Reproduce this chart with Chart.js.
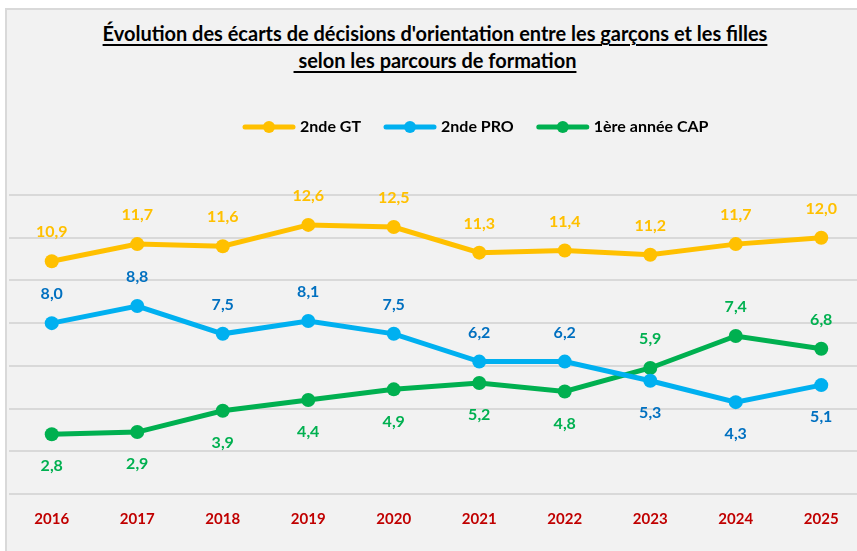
<!DOCTYPE html>
<html>
<head>
<meta charset="utf-8">
<script src="https://cdn.jsdelivr.net/npm/chart.js@4.4.1/dist/chart.umd.min.js"></script>
<style>
  body { margin:0; background:#fff; overflow:hidden; width:857px; height:551px; position:relative; font-family: Lato, sans-serif; }
  #box { position:absolute; left:5px; top:8px; width:900px; height:600px; background:#f2f2f2; border-left:2px solid #d9d9d9; border-top:2px solid #d9d9d9; }
  #titre { position:absolute; left:0; top:20px; width:870px; text-align:center; font-weight:bold; color:#000; line-height:27px; font-size:17px; }
  #titre span { text-decoration: underline; text-decoration-thickness: 1.5px; text-underline-offset: 3px; }
  #wrap { position:absolute; left:7px; top:10px; }
</style>
</head>
<body>
<div id="box"></div>
<div id="titre"><span>Évolution des écarts de décisions d'orientation entre les garçons et les filles</span><br><span>&nbsp;selon les parcours de formation</span></div>
<div id="wrap"><canvas id="evolution" width="861" height="543"></canvas></div>
<script>
// donnees
const annees = ['2016', '2017', '2018', '2019', '2020', '2021', '2022', '2023', '2024', '2025'];
const secondeGT = [10.9, 11.7, 11.6, 12.6, 12.5, 11.3, 11.4, 11.2, 11.7, 12.0];
const secondePRO = [8.0, 8.8, 7.5, 8.1, 7.5, 6.2, 6.2, 5.3, 4.3, 5.1];
const premiereCAP = [2.8, 2.9, 3.9, 4.4, 4.9, 5.2, 4.8, 5.9, 7.4, 6.8];

// taille du titre ajustee a la largeur
const mesure = document.createElement('canvas').getContext('2d');
mesure.font = 'bold 100px Lato';
const largeur = mesure.measureText("Évolution des écarts de décisions d'orientation entre les garçons et les filles").width;
document.getElementById('titre').style.fontSize = (100 * 665 / largeur).toFixed(2) + 'px';

// legende dessinee a la main (ligne + point)
const legende = {
    id: 'legende',
    afterDraw(chart) {
        const ctx = chart.ctx;
        let x = 235;
        const y = 117;
        ctx.save();
        ctx.font = 'bold 16px Lato';
        ctx.textBaseline = 'middle';
        chart.data.datasets.forEach(ds => {
            ctx.strokeStyle = ds.borderColor;
            ctx.lineWidth = 5;
            ctx.lineCap = 'round';
            ctx.beginPath();
            ctx.moveTo(x + 3, y);
            ctx.lineTo(x + 51, y);
            ctx.stroke();
            ctx.fillStyle = ds.borderColor;
            ctx.beginPath();
            ctx.arc(x + 27, y, 6, 0, Math.PI * 2);
            ctx.fill();
            ctx.fillStyle = '#000';
            ctx.fillText(ds.label, x + 58, y);
            x += 58 + ctx.measureText(ds.label).width + 22;
        });
        ctx.restore();
    }
};

// etiquettes de valeurs
const etiquettes = {
    id: 'etiquettes',
    afterDatasetsDraw(chart) {
        const ctx = chart.ctx;
        ctx.save();
        ctx.font = 'bold 16px Lato';
        ctx.textAlign = 'center';
        ctx.textBaseline = 'middle';
        chart.data.datasets.forEach((ds, i) => {
            const meta = chart.getDatasetMeta(i);
            meta.data.forEach((pt, j) => {
                let dessus = true;
                if (i === 1) dessus = secondePRO[j] >= premiereCAP[j];
                if (i === 2) dessus = premiereCAP[j] > secondePRO[j];
                ctx.fillStyle = ds.labelColor;
                const txt = ds.data[j].toFixed(1).replace('.', ',');
                ctx.fillText(txt, pt.x, dessus ? pt.y - 29 : pt.y + 32);
            });
        });
        ctx.restore();
    }
};

const Evolution = document.getElementById('evolution');

new Chart(Evolution, {
    type: 'line',
    data: {
        labels: annees,
        datasets: [{
            label: '2nde GT',
            data: secondeGT,
            borderColor: '#FFC000',
            backgroundColor: '#FFC000',
            labelColor: '#FFC000'
        }, {
            label: '2nde PRO',
            data: secondePRO,
            borderColor: '#00B0F0',
            backgroundColor: '#00B0F0',
            labelColor: '#0070C0'
        }, {
            label: '1ère année CAP',
            data: premiereCAP,
            borderColor: '#00B050',
            backgroundColor: '#00B050',
            labelColor: '#00B050'
        }]
    },
    options: {
        responsive: false,
        animation: false,
        events: [],
        devicePixelRatio: 1,
        elements: {
            line: { borderWidth: 5, tension: 0 },
            point: { radius: 7, borderWidth: 0 }
        },
        layout: { autoPadding: false, padding: { left: 2, right: 4, top: 185, bottom: 9 } },
        scales: {
            x: {
                offset: true,
                grid: { display: false, drawTicks: false },
                border: { display: false },
                ticks: {
                    color: '#C00000',
                    font: { family: "'Liberation Sans Narrow', Lato, sans-serif", size: 15, weight: 'bold' },
                    padding: 16,
                    maxRotation: 0,
                    autoSkip: false
                }
            },
            y: {
                min: 0,
                max: 14,
                ticks: { display: false, stepSize: 2 },
                grid: { color: '#d9d9d9', lineWidth: 2, drawTicks: false },
                border: { display: false }
            }
        },
        plugins: {
            legend: { display: false },
            tooltip: { enabled: false }
        }
    },
    plugins: [legende, etiquettes]
});
</script>
</body>
</html>
